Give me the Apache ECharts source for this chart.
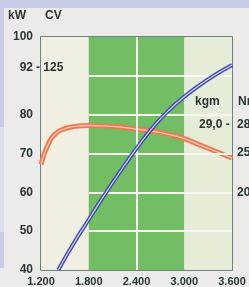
<!DOCTYPE html>
<html>
<head>
<meta charset="utf-8">
<script src="https://cdn.jsdelivr.net/npm/echarts@6/dist/echarts.min.js"></script>
<style>
  html, body { margin: 0; padding: 0; background: #ebebea; }
  #chart { width: 249px; height: 287px; }
</style>
</head>
<body>
<div id="chart"></div>
<script>
// rpm ticks and the readings
var rpmTicks = [1200, 1800, 2400, 3000, 3600];
var kwTicks = [40, 50, 60, 70, 80, 92, 100];
var nmTicks = [200, 250, 285];

var powerRpm = [1417, 1600, 1800, 2000, 2200, 2400, 2600, 2800, 3000, 3200, 3400, 3600];
var powerKw  = [40, 46.5, 53, 59.4, 65.5, 71.3, 76.6, 81, 84.6, 87.7, 90.4, 92.8];

var torqueRpm = [1200, 1300, 1400, 1500, 1600, 1800, 2000, 2200, 2400, 2600, 2800, 3000, 3200, 3400, 3600];
var torqueNm  = [236, 263, 275.5, 280.5, 283, 284.5, 284, 282.5, 280, 277.5, 273.5, 268, 260, 252, 244];

var gridLevels = [50, 60, 70, 80, 90];

function pairs(xs, ys) {
    var out = [];
    for (var i = 0; i < xs.length; i++) {
        out.push([xs[i], ys[i]]);
    }
    return out;
}

var whiteLines = [];
for (var i = 0; i < gridLevels.length; i++) {
    whiteLines.push([{coord: [1800, gridLevels[i]]}, {coord: [3600, gridLevels[i]]}]);
}
whiteLines.push([{coord: [2400, 40]}, {coord: [2400, 100]}]);

var txt = '#2b3535';
var font = 'Liberation Sans';

var chart = echarts.init(document.getElementById('chart'));

var option = {
    backgroundColor: '#ebebea',
    animation: false,
    grid: {
        left: 41, right: 17, top: 37, bottom: 17,
        outerBoundsMode: 'none',
        containLabel: false,
        show: true,
        backgroundColor: 'transparent',
        borderColor: '#41605a',
        borderWidth: 1.5
    },
    xAxis: {
        type: 'value',
        min: 1200, max: 3600, interval: 600,
        axisLine: {show: false},
        axisTick: {show: false},
        splitLine: {show: false},
        splitArea: {
            show: true,
            areaStyle: {color: ['#f1efe1', '#73be65', '#73be65', '#e5ecd8']}
        },
        axisLabel: {
            margin: 6,
            color: txt, fontFamily: font, fontWeight: 'bold', fontSize: 11,
            formatter: function(v){
                return String(v).replace(/(\d)(\d{3})$/, '$1.$2');
            }
        }
    },
    yAxis: [
        {
            type: 'value',
            min: 40, max: 100, interval: 10,
            axisLine: {show: false},
            axisTick: {show: false},
            splitLine: {show: false},
            axisLabel: {
                customValues: kwTicks,
                margin: 8,
                color: txt, fontFamily: font, fontWeight: 'bold', fontSize: 12
            }
        },
        {
            type: 'value',
            min: 104, max: 395,
            position: 'right',
            axisLine: {show: false},
            axisTick: {show: false},
            splitLine: {show: false},
            axisLabel: {
                customValues: nmTicks,
                margin: 5,
                color: txt, fontFamily: font, fontWeight: 'bold', fontSize: 12
            }
        }
    ],
    graphic: [
        {type: 'rect', z: -10, silent: true, shape: {x: 0, y: 0, width: 249, height: 8}, style: {fill: '#c9cce9'}},
        {type: 'rect', z: -10, silent: true, shape: {x: 0, y: 0, width: 4, height: 127}, style: {fill: '#c9cce9'}},
        {type: 'rect', z: -10, silent: true, shape: {x: 0, y: 127, width: 4, height: 105}, style: {fill: '#dcdeef'}},
        {type: 'rect', z: -10, silent: true, shape: {x: 0, y: 232, width: 4, height: 36}, style: {fill: '#c9cce9'}},
        {type: 'text', left: 8, top: 10, style: {text: 'kW', fill: txt, font: 'bold 12px ' + font}},
        {type: 'text', left: 45, top: 10, style: {text: 'CV', fill: txt, font: 'bold 12px ' + font}},
        {type: 'text', left: 36, top: 62, z: 10, style: {text: '- 125', fill: txt, font: 'bold 12px ' + font}},
        {type: 'text', left: 195, top: 96, z: 10, style: {text: 'kgm', fill: txt, font: 'bold 12px ' + font}},
        {type: 'text', left: 238, top: 96, z: 10, style: {text: 'Nm', fill: txt, font: 'bold 12px ' + font}},
        {type: 'text', left: 199, top: 119, z: 10, style: {text: '29,0 -', fill: txt, font: 'bold 12px ' + font}}
    ],
    series: [
        {
            type: 'line', data: [], z: 1, silent: true,
            markLine: {
                silent: true, symbol: 'none', label: {show: false},
                lineStyle: {color: '#f6f7ee', width: 2, type: 'solid'},
                data: whiteLines
            }
        },
        {
            type: 'line', yAxisIndex: 1, z: 3, smooth: true, showSymbol: false, silent: true,
            data: pairs(torqueRpm, torqueNm),
            lineStyle: {color: '#ef7a52', width: 5}
        },
        {
            type: 'line', yAxisIndex: 1, z: 4, smooth: true, showSymbol: false, silent: true,
            data: pairs(torqueRpm, torqueNm),
            lineStyle: {color: '#f8c6ae', width: 1.3}
        },
        {
            type: 'line', yAxisIndex: 0, z: 5, smooth: true, showSymbol: false, silent: true,
            data: pairs(powerRpm, powerKw),
            lineStyle: {color: '#3551b2', width: 4}
        },
        {
            type: 'line', yAxisIndex: 0, z: 6, smooth: true, showSymbol: false, silent: true,
            data: pairs(powerRpm, powerKw),
            lineStyle: {color: '#efc6df', width: 1.2}
        }
    ]
};
if (option && option.series) {
    chart.setOption(option);
}
</script>
</body>
</html>
